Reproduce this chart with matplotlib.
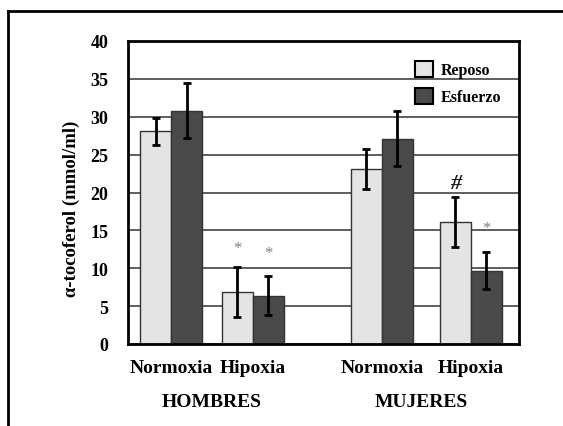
import matplotlib
matplotlib.use("Agg")
import matplotlib.pyplot as plt
from matplotlib.lines import Line2D
from matplotlib.patches import Patch

plt.rcParams['font.family'] = ['Liberation Serif', 'DejaVu Serif']
plt.rcParams['font.weight'] = 'bold'

# Data
conditions = ["Normoxia", "Hipoxia", "Normoxia", "Hipoxia"]
groups = ["HOMBRES", "MUJERES"]
series = ["Reposo", "Esfuerzo"]
reposo = [28.1, 6.8, 23.1, 16.1]
reposo_err = [1.8, 3.3, 2.7, 3.3]
esfuerzo = [30.8, 6.4, 27.1, 9.7]
esfuerzo_err = [3.6, 2.6, 3.6, 2.5]
y_ticks = [0, 5, 10, 15, 20, 25, 30, 35, 40]
# annotations: (condition index, series index, y, symbol)
marks = [(1, 0, 12.7, "*"), (1, 1, 12.0, "*"), (3, 0, 21.3, "#"), (3, 1, 15.3, "*")]

# Layout (positions in bar-width units)
centers = [1.39, 4.02, 8.19, 11.06]
group_centers = [2.70, 9.45]
bw = 1.0
light = "#e4e4e4"
dark = "#4a4a4a"

fig = plt.figure(figsize=(5.63, 4.27), dpi=100)
ax = fig.add_axes([128/563, 1-345/427, 391/563, 303/427])

xr = [c - bw/2 for c in centers]
xe = [c + bw/2 for c in centers]

ax.set_axisbelow(True)
ax.yaxis.grid(True, color="#333333", linewidth=1.1)
ax.bar(xr, reposo, width=bw, color=light, edgecolor="#333333", linewidth=1.0, zorder=2)
ax.bar(xe, esfuerzo, width=bw, color=dark, edgecolor="#333333", linewidth=1.0, zorder=2)
ax.errorbar(xr, reposo, yerr=reposo_err, fmt="none", ecolor="black",
            elinewidth=2.0, capsize=3, capthick=2.0, zorder=3)
ax.errorbar(xe, esfuerzo, yerr=esfuerzo_err, fmt="none", ecolor="black",
            elinewidth=2.0, capsize=3, capthick=2.0, zorder=3)

for ci, si, yv, sym in marks:
    xpos = xr[ci] if si == 0 else xe[ci]
    if sym == "#":
        ax.text(xpos, yv, sym, ha="center", va="center", fontsize=16,
                color="#1a1a1a", fontweight="bold", fontstyle="italic")
    else:
        ax.text(xpos, yv, sym, ha="center", va="center", fontsize=12,
                color="#808080", fontweight="normal")

ax.set_xlim(0, 12.61)
ax.set_ylim(0, 40)
ax.set_yticks(y_ticks)
ax.set_yticklabels([str(t) for t in y_ticks], fontsize=13, fontweight="bold")
ax.set_xticks(centers)
ax.set_xticklabels(conditions, fontsize=14, fontweight="bold")
ax.tick_params(axis="both", length=0)
ax.tick_params(axis="y", pad=14)
ax.tick_params(axis="x", pad=11)
for s in ax.spines.values():
    s.set_linewidth(2.0)
    s.set_color("black")

for gc, g in zip(group_centers, groups):
    ax.text(gc, -0.19, g, transform=ax.get_xaxis_transform(), ha="center",
            va="center", fontsize=14, fontweight="bold")

ax.set_ylabel("α-tocoferol (mmol/ml)", fontsize=13.5, fontweight="bold")
ax.yaxis.set_label_coords(-0.122, 0.45)

handles = [Patch(facecolor=light, edgecolor="black", linewidth=1.5),
           Patch(facecolor=dark, edgecolor="black", linewidth=1.5)]
ax.legend(handles, series, loc="upper left", bbox_to_anchor=(0.734, 0.934),
          frameon=False, borderpad=0, borderaxespad=0, handlelength=1.15,
          handleheight=1.15, handletextpad=0.45, labelspacing=0.6,
          prop={"size": 11.5, "weight": "bold"})

# outer frame lines (left and top)
fig.add_artist(Line2D([8/563, 8/563], [0, 1-12/427], color="black", linewidth=2.0))
fig.add_artist(Line2D([8/563, 1], [1-12/427, 1-12/427], color="black", linewidth=2.0))

fig.savefig("out.png", dpi=100)
